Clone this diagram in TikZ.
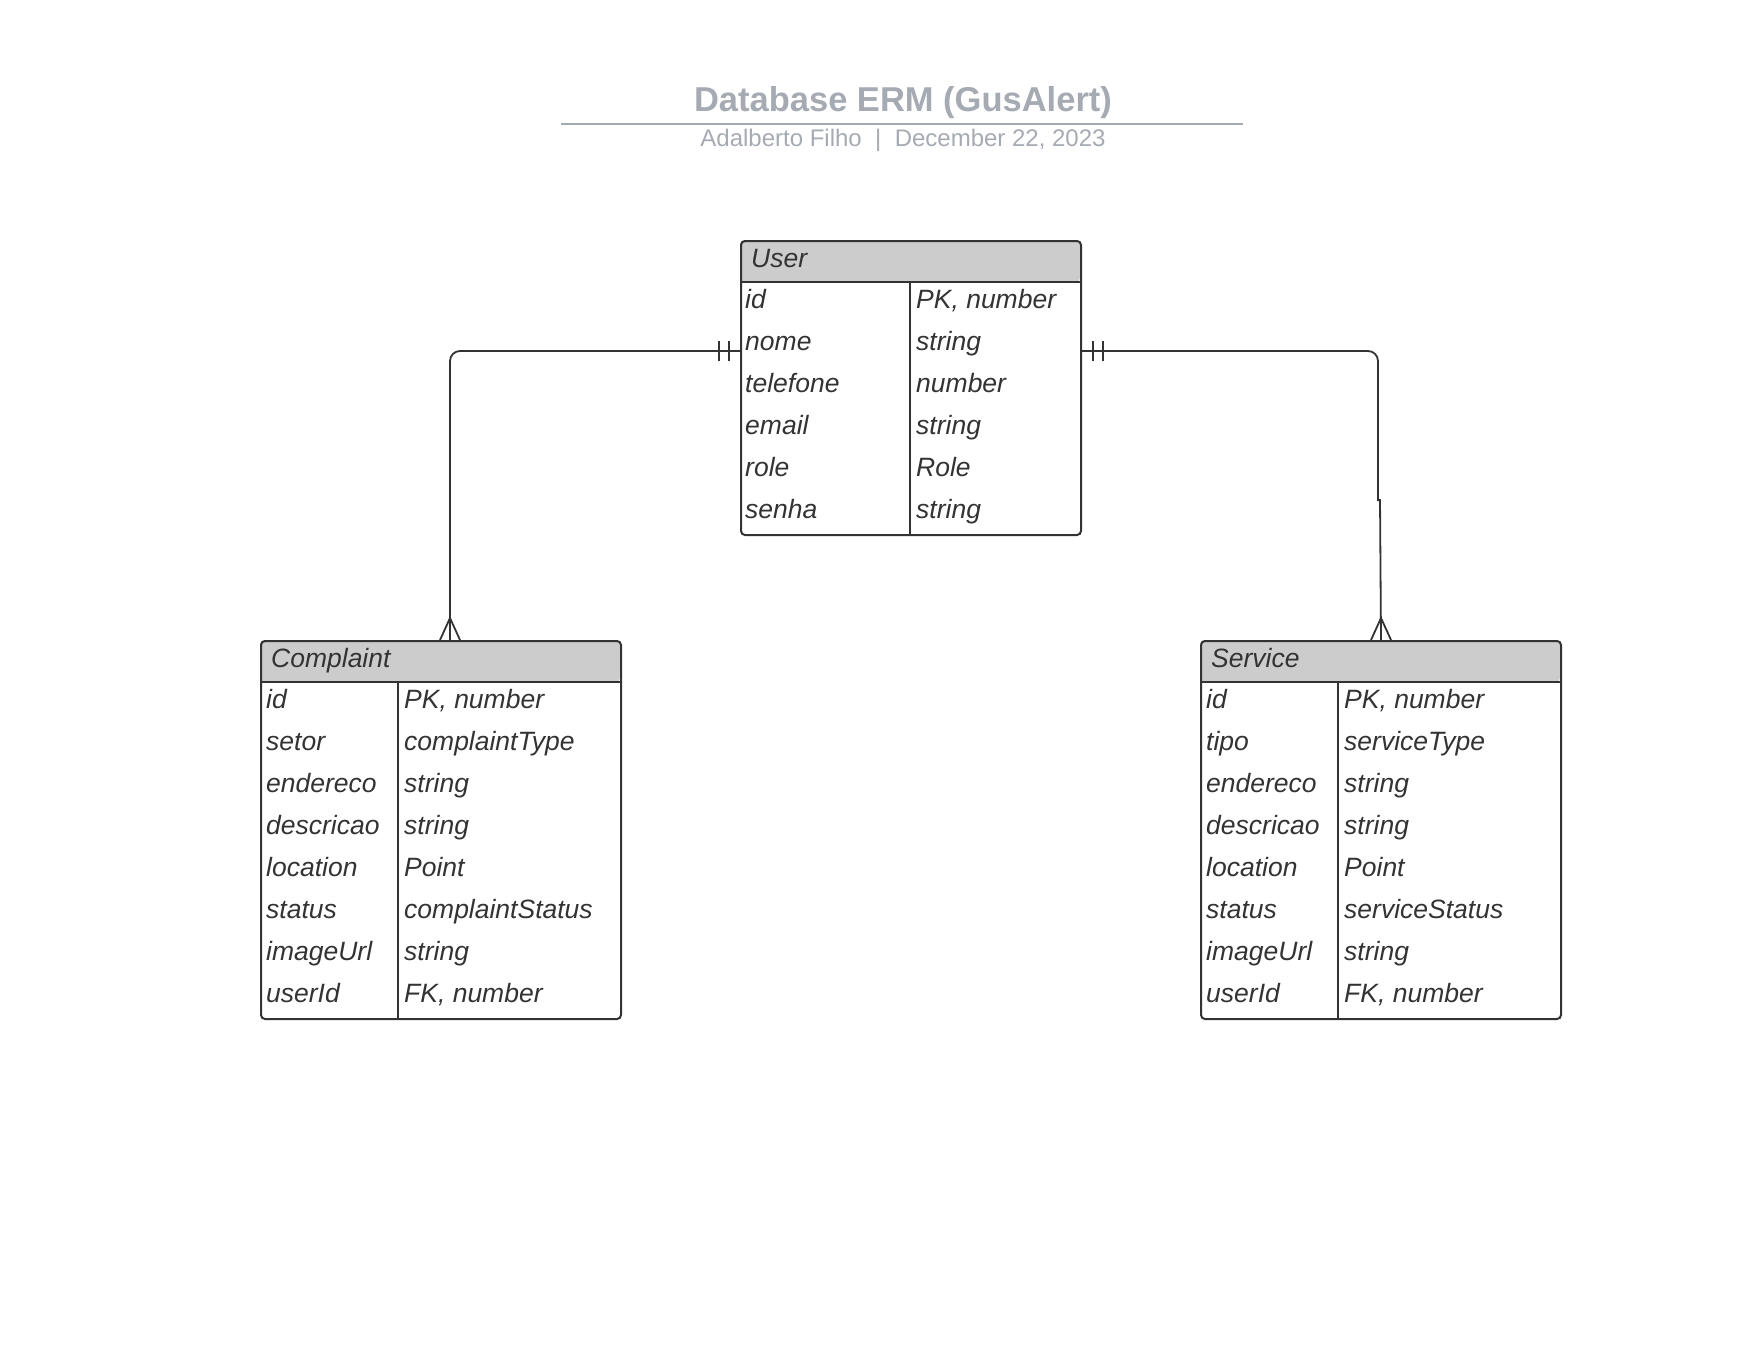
\documentclass[tikz,border=0pt]{standalone}
\usepackage{fontspec}
\setmainfont{Liberation Sans}
\usetikzlibrary{positioning}
\definecolor{inkgray}{HTML}{333333}
\definecolor{headgray}{HTML}{CCCCCC}
\definecolor{titlegray}{HTML}{A5AAB3}

\begin{document}
\begin{tikzpicture}
    [x=1pt,y=-1pt,
    table/.style={rectangle,draw=inkgray,line width=2pt,rounded corners=4pt,
    inner sep=0pt,anchor=north west},
    headbar/.style={fill=headgray,rounded corners=4pt},
    rule/.style={draw=inkgray,line width=2pt},
    field/.style={anchor=base west,inner sep=0pt,text=inkgray,
    font=\fontsize{26.5}{30}\selectfont\itshape},
    rel/.style={draw=inkgray,line width=1.8pt}]
    \useasboundingbox (0,0) rectangle (1760,1360);

    % title block
    \node[anchor=base,inner sep=0pt,text=titlegray,
    font=\fontsize{34.5}{40}\selectfont\bfseries] (title) at (903,111) {Database ERM (GusAlert)};
    \draw[titlegray,line width=2pt] (561,124) -- (1243,124);
    \node[anchor=base,inner sep=0pt,text=titlegray,
    font=\fontsize{24}{28}\selectfont] (subtitle) at (903,146) {Adalberto Filho\ \ |\ \ December 22, 2023};

    % User
    \path[headbar] (740,240) rectangle (1080,282);
    \draw[rule] (740,282) -- (1080,282) (910,282) -- (910,534);
    \node[table,minimum width=340pt,minimum height=294pt] (user) at (740,240) {};
    \node[field] (user-name) at (751,267) {User};
    \foreach \f/\t [count=\i from 0] in {id/{PK, number},nome/string,telefone/number,
        email/string,role/Role,senha/string} {
      \node[field] (user-f\i) at (745,{308+42*\i}) {\f};
      \node[field] (user-t\i) at (916,{308+42*\i}) {\t};
    }

    % Complaint
    \path[headbar] (260,640) rectangle (620,682);
    \draw[rule] (260,682) -- (620,682) (398,682) -- (398,1018);
    \node[table,minimum width=360pt,minimum height=378pt] (complaint) at (260,640) {};
    \node[field] (complaint-name) at (271,667) {Complaint};
    \foreach \f/\t [count=\i from 0] in {id/{PK, number},setor/complaintType,endereco/string,
        descricao/string,location/Point,status/complaintStatus,imageUrl/string,userId/{FK, number}} {
      \node[field] (complaint-f\i) at (266,{708+42*\i}) {\f};
      \node[field] (complaint-t\i) at (404,{708+42*\i}) {\t};
    }

    % Service
    \path[headbar] (1200,640) rectangle (1560,682);
    \draw[rule] (1200,682) -- (1560,682) (1338,682) -- (1338,1018);
    \node[table,minimum width=360pt,minimum height=378pt] (service) at (1200,640) {};
    \node[field] (service-name) at (1211,667) {Service};
    \foreach \f/\t [count=\i from 0] in {id/{PK, number},tipo/serviceType,endereco/string,
        descricao/string,location/Point,status/serviceStatus,imageUrl/string,userId/{FK, number}} {
      \node[field] (service-f\i) at (1206,{708+42*\i}) {\f};
      \node[field] (service-t\i) at (1344,{708+42*\i}) {\t};
    }

    % relations
    \coordinate (user-l) at ([yshift=-111pt]user.north west);
    \coordinate (user-r) at ([yshift=-111pt]user.north east);
    \coordinate (complaint-top) at ([xshift=9pt]complaint.north);
    \coordinate (service-top) at (service.north);
    \coordinate (service-bend) at (1378,500);
    \draw[rel,rounded corners=10pt] (user-l) -| (complaint-top);
    \draw[rel,rounded corners=10pt] (user-r) -| ([yshift=-1pt]service-bend);
    \draw[rel] (service-bend) -- ++(2,0) -- (service-top);
    % one marks
    \draw[rel] ([xshift=-11pt]user-l) ++(0,-10) -- ++(0,20);
    \draw[rel] ([xshift=-21pt]user-l) ++(0,-10) -- ++(0,20);
    \draw[rel] ([xshift=11pt]user-r) ++(0,-10) -- ++(0,20);
    \draw[rel] ([xshift=21pt]user-r) ++(0,-10) -- ++(0,20);
    % many marks
    \draw[rel] (complaint-top) ++(-10,0) -- ++(10,-22) -- ++(10,22);
    \draw[rel] (service-top) ++(-10,0) -- ++(10,-22) -- ++(10,22);
\end{tikzpicture}
\end{document}
